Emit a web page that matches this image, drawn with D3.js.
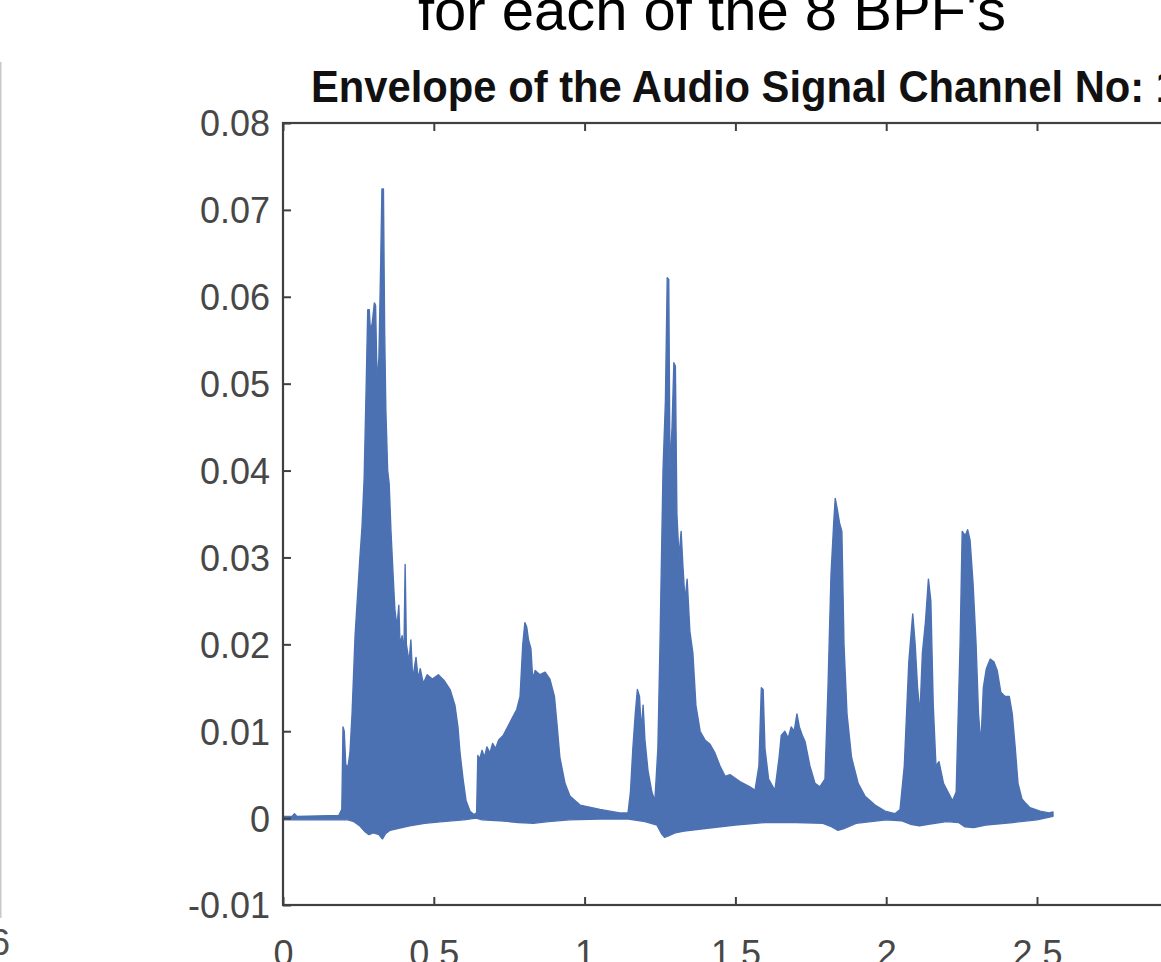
<!DOCTYPE html>
<html>
<head>
<meta charset="utf-8">
<script src="https://cdn.jsdelivr.net/npm/d3@7/dist/d3.min.js"></script>
<style>
  html, body { margin: 0; padding: 0; background: #fff; }
  svg { display: block; }
  text { font-family: "Liberation Sans", Arial, sans-serif; }
</style>
</head>
<body>
<svg id="chart" width="1161" height="962"></svg>
<script>
// Envelope of band-pass channel 1: upper and lower edges of the dense trace, [time (s), amplitude]
const upperEnvelope = [
  [0.000, 0.0002], [0.030, 0.0002], [0.038, 0.0005], [0.046, 0.0002], [0.185, 0.0003],
  [0.195, 0.0010], [0.199, 0.0105], [0.203, 0.0100], [0.208, 0.0062], [0.215, 0.0058],
  [0.222, 0.0075], [0.229, 0.0120], [0.239, 0.0210], [0.255, 0.0300], [0.262, 0.0335],
  [0.269, 0.0390], [0.276, 0.0500], [0.281, 0.0585], [0.286, 0.0585], [0.290, 0.0560],
  [0.296, 0.0570], [0.303, 0.0593], [0.307, 0.0590], [0.312, 0.0500], [0.318, 0.0530],
  [0.324, 0.0640], [0.328, 0.0724], [0.333, 0.0724], [0.337, 0.0560], [0.341, 0.0470],
  [0.347, 0.0400], [0.352, 0.0385], [0.358, 0.0330], [0.365, 0.0280], [0.371, 0.0240],
  [0.378, 0.0220], [0.384, 0.0245], [0.388, 0.0200], [0.395, 0.0210], [0.401, 0.0190],
  [0.405, 0.0292], [0.409, 0.0200], [0.418, 0.0180], [0.424, 0.0205], [0.430, 0.0160],
  [0.441, 0.0185], [0.448, 0.0160], [0.455, 0.0172], [0.465, 0.0155], [0.478, 0.0165],
  [0.495, 0.0160], [0.515, 0.0165], [0.535, 0.0158], [0.554, 0.0148], [0.570, 0.0130],
  [0.580, 0.0105], [0.587, 0.0075], [0.597, 0.0045], [0.607, 0.0020], [0.620, 0.0008],
  [0.633, 0.0004], [0.642, 0.0006], [0.646, 0.0072], [0.652, 0.0068], [0.660, 0.0078],
  [0.668, 0.0070], [0.676, 0.0082], [0.686, 0.0075], [0.695, 0.0086], [0.705, 0.0080],
  [0.715, 0.0090], [0.730, 0.0095], [0.745, 0.0105], [0.760, 0.0115], [0.775, 0.0125],
  [0.786, 0.0140], [0.795, 0.0200], [0.802, 0.0225], [0.808, 0.0220], [0.814, 0.0205],
  [0.822, 0.0195], [0.828, 0.0160], [0.836, 0.0170], [0.852, 0.0165], [0.869, 0.0168],
  [0.885, 0.0160], [0.900, 0.0140], [0.908, 0.0110], [0.918, 0.0070], [0.935, 0.0040],
  [0.952, 0.0025], [0.985, 0.0015], [1.051, 0.0010], [1.117, 0.0006], [1.144, 0.0006],
  [1.152, 0.0030], [1.160, 0.0080], [1.168, 0.0120], [1.175, 0.0148], [1.182, 0.0140],
  [1.188, 0.0100], [1.194, 0.0130], [1.200, 0.0090], [1.210, 0.0055], [1.223, 0.0030],
  [1.233, 0.0020], [1.243, 0.0080], [1.250, 0.0200], [1.260, 0.0400], [1.268, 0.0480],
  [1.274, 0.0622], [1.279, 0.0620], [1.283, 0.0400], [1.290, 0.0450], [1.296, 0.0524],
  [1.301, 0.0520], [1.306, 0.0350], [1.313, 0.0300], [1.320, 0.0330], [1.326, 0.0290],
  [1.333, 0.0250], [1.340, 0.0275], [1.349, 0.0215], [1.359, 0.0190], [1.369, 0.0130],
  [1.383, 0.0100], [1.399, 0.0090], [1.416, 0.0085], [1.432, 0.0075], [1.449, 0.0060],
  [1.466, 0.0048], [1.482, 0.0050], [1.515, 0.0042], [1.548, 0.0036], [1.565, 0.0032],
  [1.578, 0.0060], [1.586, 0.0150], [1.592, 0.0148], [1.598, 0.0080], [1.610, 0.0045],
  [1.631, 0.0032], [1.645, 0.0070], [1.652, 0.0095], [1.664, 0.0100], [1.675, 0.0092],
  [1.685, 0.0105], [1.695, 0.0100], [1.704, 0.0120], [1.712, 0.0105], [1.722, 0.0095],
  [1.731, 0.0088], [1.747, 0.0060], [1.764, 0.0040], [1.780, 0.0036], [1.797, 0.0045],
  [1.807, 0.0150], [1.817, 0.0280], [1.826, 0.0340], [1.831, 0.0368], [1.838, 0.0355],
  [1.845, 0.0340], [1.853, 0.0330], [1.860, 0.0200], [1.870, 0.0120], [1.885, 0.0070],
  [1.907, 0.0040], [1.930, 0.0025], [1.963, 0.0015], [1.996, 0.0008], [2.029, 0.0005],
  [2.046, 0.0010], [2.060, 0.0060], [2.075, 0.0180], [2.088, 0.0235], [2.096, 0.0200],
  [2.104, 0.0150], [2.112, 0.0120], [2.120, 0.0190], [2.130, 0.0225], [2.140, 0.0275],
  [2.148, 0.0250], [2.156, 0.0130], [2.165, 0.0060], [2.175, 0.0065], [2.190, 0.0040],
  [2.205, 0.0030], [2.220, 0.0020], [2.232, 0.0030], [2.245, 0.0200], [2.252, 0.0330],
  [2.262, 0.0325], [2.270, 0.0332], [2.278, 0.0320], [2.288, 0.0270], [2.298, 0.0200],
  [2.306, 0.0120], [2.314, 0.0085], [2.322, 0.0150], [2.332, 0.0172], [2.345, 0.0183],
  [2.357, 0.0180], [2.368, 0.0170], [2.380, 0.0145], [2.394, 0.0140], [2.408, 0.0140],
  [2.418, 0.0120], [2.428, 0.0080], [2.437, 0.0040], [2.450, 0.0022], [2.460, 0.0018],
  [2.477, 0.0012], [2.510, 0.0008], [2.540, 0.0006], [2.553, 0.0007]
];

const lowerEnvelope = [
  [0.000, -0.0002], [0.185, -0.0002], [0.215, -0.0002], [0.235, -0.0004], [0.255, -0.0009],
  [0.270, -0.0015], [0.285, -0.0019], [0.300, -0.0017], [0.318, -0.0019], [0.330, -0.0024],
  [0.340, -0.0018], [0.355, -0.0014], [0.380, -0.0012], [0.420, -0.0009], [0.470, -0.0006],
  [0.530, -0.0004], [0.600, -0.0002], [0.640, 0.0000], [0.660, -0.0002], [0.720, -0.0003],
  [0.780, -0.0005], [0.830, -0.0006], [0.880, -0.0004], [0.950, -0.0002], [1.050, -0.0001],
  [1.145, -0.0001], [1.200, -0.0004], [1.240, -0.0008], [1.255, -0.0018], [1.265, -0.0022],
  [1.280, -0.0020], [1.300, -0.0017], [1.330, -0.0015], [1.400, -0.0012], [1.500, -0.0008],
  [1.600, -0.0005], [1.700, -0.0005], [1.790, -0.0006], [1.820, -0.0010], [1.840, -0.0014],
  [1.860, -0.0012], [1.900, -0.0006], [2.000, -0.0002], [2.050, -0.0003], [2.080, -0.0007],
  [2.110, -0.0009], [2.140, -0.0007], [2.200, -0.0004], [2.240, -0.0005], [2.260, -0.0010],
  [2.290, -0.0011], [2.330, -0.0008], [2.420, -0.0005], [2.500, -0.0002], [2.553, 0.0002]
];

const xTicks = [0, 0.5, 1, 1.5, 2, 2.5, 3];
const xTickLabels = ["0", "0.5", "1", "1.5", "2", "2.5", "3"];
const yTicks = [-0.01, 0, 0.01, 0.02, 0.03, 0.04, 0.05, 0.06, 0.07, 0.08];
const yTickLabels = ["-0.01", "0", "0.01", "0.02", "0.03", "0.04", "0.05", "0.06", "0.07", "0.08"];

const figureTitle = "for each of the 8 BPF's";
const axesTitle = "Envelope of the Audio Signal Channel No: 1";
const neighbourTickText = "6";

const svg = d3.select("#chart");
const axisColor = "#404040";
const lineColor = "#4c71b3";

const plot = { left: 283, top: 123, bottom: 905 };
const x = d3.scaleLinear().domain([0, 3]).range([plot.left, plot.left + 3 * 301.6]);
const y = d3.scaleLinear().domain([-0.01, 0.08]).range([plot.bottom, plot.top]);
const plotRight = x(3);

// edge of the neighbouring subplot on the left
svg.append("line")
  .attr("x1", 0.5).attr("x2", 0.5).attr("y1", 62).attr("y2", 918)
  .attr("stroke", "#c8c8c8").attr("stroke-width", 2);
svg.append("text")
  .attr("x", 10).attr("y", 955)
  .attr("text-anchor", "end")
  .attr("font-size", 36).attr("fill", "#505050")
  .text(neighbourTickText);

// figure title
svg.append("text")
  .attr("x", 712).attr("y", 30)
  .attr("text-anchor", "middle")
  .attr("font-size", 58).attr("fill", "#000")
  .text(figureTitle);

// axes title
svg.append("text")
  .attr("x", 311).attr("y", 102)
  .attr("font-size", 45).attr("font-weight", "bold").attr("fill", "#111")
  .attr("textLength", 868).attr("lengthAdjust", "spacingAndGlyphs")
  .text(axesTitle);

// envelope trace: upper edge left-to-right, lower edge back again
const line = d3.line().x(d => x(d[0])).y(d => y(d[1]));
const outline = upperEnvelope.concat(lowerEnvelope.slice().reverse());
svg.append("path")
  .attr("d", line(outline) + "Z")
  .attr("fill", lineColor)
  .attr("stroke", lineColor)
  .attr("stroke-width", 1.4)
  .attr("stroke-linejoin", "round");

// axes with inward ticks
const fmtX = d => xTickLabels[xTicks.indexOf(d)];
const fmtY = d => yTickLabels[yTicks.indexOf(d)];

const styleAxis = g => {
  g.select(".domain").remove();
  g.selectAll(".tick line").attr("stroke", axisColor).attr("stroke-width", 2);
  g.selectAll(".tick text")
    .attr("fill", "#474747")
    .attr("font-size", 36)
    .attr("font-family", "'Liberation Sans', Arial, sans-serif");
};

svg.append("g")
  .attr("transform", `translate(0,${plot.bottom})`)
  .call(d3.axisBottom(x).tickValues(xTicks).tickFormat(fmtX).tickSizeInner(-8).tickSizeOuter(0).tickPadding(35))
  .call(styleAxis);

svg.append("g")
  .attr("transform", `translate(0,${plot.top})`)
  .call(d3.axisTop(x).tickValues(xTicks).tickFormat("").tickSizeInner(-8).tickSizeOuter(0))
  .call(styleAxis);

svg.append("g")
  .attr("transform", `translate(${plot.left},0)`)
  .call(d3.axisLeft(y).tickValues(yTicks).tickFormat(fmtY).tickSizeInner(-8).tickSizeOuter(0).tickPadding(13))
  .call(styleAxis)
  .selectAll(".tick text").attr("dy", "0.36em");

svg.append("g")
  .attr("transform", `translate(${plotRight},0)`)
  .call(d3.axisRight(y).tickValues(yTicks).tickFormat("").tickSizeInner(-8).tickSizeOuter(0))
  .call(styleAxis);

// axes box
svg.append("rect")
  .attr("x", plot.left).attr("y", plot.top)
  .attr("width", plotRight - plot.left).attr("height", plot.bottom - plot.top)
  .attr("fill", "none").attr("stroke", axisColor).attr("stroke-width", 2.2);
</script>
</body>
</html>
